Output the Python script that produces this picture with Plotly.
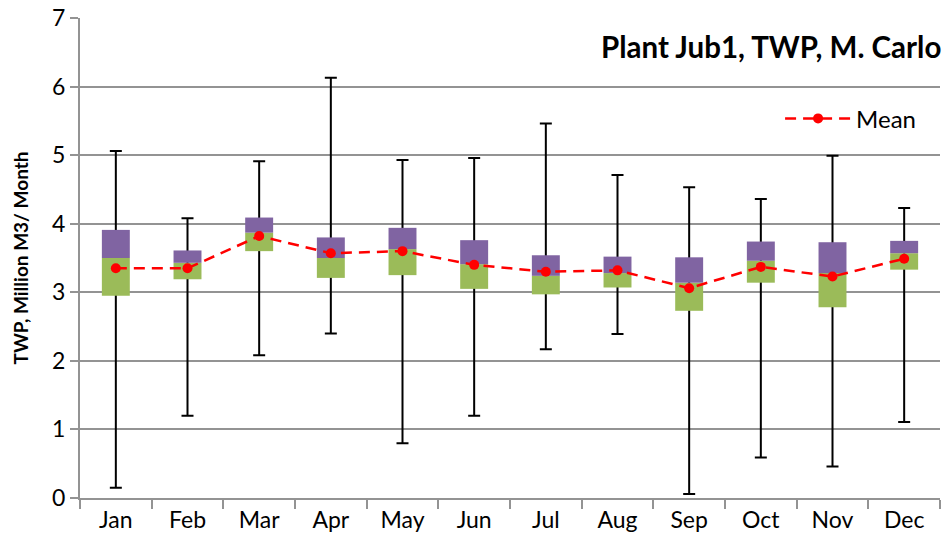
import plotly.graph_objects as go

months = ["Jan", "Feb", "Mar", "Apr", "May", "Jun",
          "Jul", "Aug", "Sep", "Oct", "Nov", "Dec"]
v_min = [0.15, 1.20, 2.08, 2.40, 0.80, 1.20, 2.17, 2.39, 0.06, 0.59, 0.46, 1.11]
q1 = [2.95, 3.19, 3.60, 3.21, 3.25, 3.05, 2.97, 3.07, 2.73, 3.14, 2.78, 3.33]
median = [3.50, 3.43, 3.87, 3.50, 3.63, 3.41, 3.24, 3.28, 3.14, 3.46, 3.28, 3.57]
q3 = [3.91, 3.61, 4.09, 3.80, 3.94, 3.76, 3.54, 3.52, 3.51, 3.74, 3.73, 3.75]
v_max = [5.06, 4.08, 4.91, 6.13, 4.93, 4.96, 5.46, 4.71, 4.53, 4.36, 4.99, 4.23]
mean = [3.35, 3.35, 3.82, 3.57, 3.60, 3.40, 3.30, 3.32, 3.06, 3.37, 3.23, 3.49]

FONT = "Lato"
GRID = "#939393"

fig = go.Figure()

# whiskers: error bars hung on an invisible bar reaching the median
fig.add_trace(go.Bar(
    x=months, y=median, width=0.39,
    marker=dict(color="rgba(0,0,0,0)", line=dict(width=0)),
    error_y=dict(type="data", symmetric=False,
                 array=[hi - m for hi, m in zip(v_max, median)],
                 arrayminus=[m - lo for m, lo in zip(median, v_min)],
                 color="black", thickness=2, width=6),
    showlegend=False, hoverinfo="skip",
))

# lower box: Q1 to median
fig.add_trace(go.Bar(
    x=months, base=q1, y=[m - a for m, a in zip(median, q1)], width=0.39,
    marker=dict(color="#9BBB59", line=dict(width=0)),
    showlegend=False,
))

# upper box: median to Q3
fig.add_trace(go.Bar(
    x=months, base=median, y=[b - m for b, m in zip(q3, median)], width=0.39,
    marker=dict(color="#8064A2", line=dict(width=0)),
    showlegend=False,
))

fig.add_trace(go.Scatter(
    x=months, y=mean, mode="lines+markers", name="Mean",
    line=dict(color="#FF0000", width=2.5, dash="11px,7px"),
    marker=dict(color="#FF0000", size=10),
))

fig.update_layout(
    width=949, height=548,
    margin=dict(l=80, r=9, t=18, b=50, autoexpand=False),
    paper_bgcolor="white", plot_bgcolor="white",
    barmode="overlay",
    font=dict(family=FONT, size=23, color="black"),
    showlegend=True,
    legend=dict(x=0.978, y=0.79, xanchor="right", yanchor="middle",
                bgcolor="rgba(0,0,0,0)", font=dict(size=24, family=FONT),
                itemwidth=66),
    annotations=[dict(
        text="<b>Plant Jub1, TWP, M. Carlo</b>",
        xref="paper", yref="paper", x=1.003, y=0.94,
        xanchor="right", yanchor="middle", showarrow=False,
        font=dict(size=29.5, family=FONT, color="black"),
    )],
)

fig.update_xaxes(
    type="category", range=[-0.5, len(months) - 0.5],
    showgrid=False, automargin=False,
    showline=True, linecolor=GRID, linewidth=2,
    ticks="outside", tickson="boundaries", ticklen=9,
    tickcolor=GRID, tickwidth=2,
    tickfont=dict(size=23, family=FONT),
)
fig.update_yaxes(
    range=[0, 7], dtick=1, tick0=0, automargin=False,
    showgrid=True, gridcolor=GRID, gridwidth=2,
    showline=True, linecolor=GRID, linewidth=2,
    ticks="outside", ticklen=8, tickcolor=GRID, tickwidth=2,
    tickfont=dict(size=23, family=FONT),
    zeroline=False,
    title=dict(text="<b>TWP, Million M3/ Month</b>",
               font=dict(size=19, family=FONT), standoff=18),
)

fig.write_html("out.html")
